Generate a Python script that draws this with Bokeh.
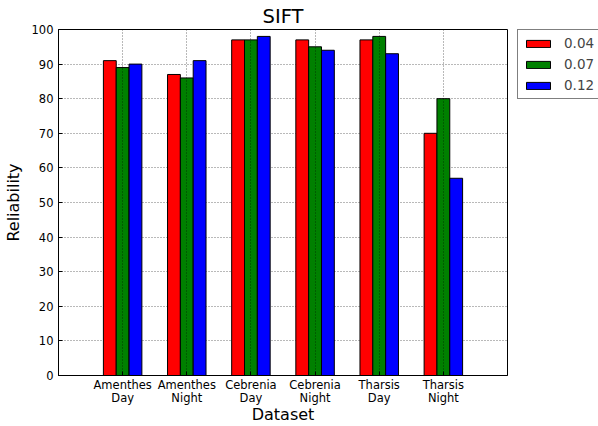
from bokeh.plotting import figure
from bokeh.layouts import row
from bokeh.models import ColumnDataSource, Range1d, FixedTicker, Legend, LegendItem
from bokeh.transform import dodge
from bokeh.embed import file_html
from bokeh.resources import INLINE

# Datasets (two-line tick labels) and reliability per threshold
datasets = ["Amenthes\nDay", "Amenthes\nNight", "Cebrenia\nDay",
            "Cebrenia\nNight", "Tharsis\nDay", "Tharsis\nNight"]
thresholds = ["0.04", "0.07", "0.12"]
rel_004 = [91, 87, 97, 97, 97, 70]
rel_007 = [89, 86, 97, 95, 98, 80]
rel_012 = [90, 91, 98, 94, 93, 57]
y_ticks = [0, 10, 20, 30, 40, 50, 60, 70, 80, 90, 100]

colors = ["#ff0000", "#008000", "#0000ff"]
offsets = [-0.2, 0.0, 0.2]

FONT = "DejaVu Sans"

idx = list(range(len(datasets)))
source = ColumnDataSource(dict(x=idx, s0=rel_004, s1=rel_007, s2=rel_012))

p = figure(width=508, height=426, output_backend="svg", toolbar_location=None,
           x_range=Range1d(-1, 6), y_range=Range1d(0, 100),
           min_border_left=57, min_border_right=1,
           min_border_top=28, min_border_bottom=49)

for i, (col, off) in enumerate(zip(colors, offsets)):
    p.vbar(x=dodge("x", off, range=p.x_range), top=f"s{i}", width=0.2,
           bottom=0, source=source, fill_color=col, line_color="black",
           line_width=1)

# Title
p.title.text = "SIFT"
p.title.text_font = FONT
p.title.text_font_size = "19.5px"
p.title.text_font_style = "normal"
p.title.align = "center"
p.title.text_color = "black"
p.title.standoff = 3

# Frame
p.outline_line_color = "black"
p.outline_line_width = 1
p.background_fill_color = "white"
p.border_fill_color = "white"

# Axes
xa = p.xaxis[0]
xa.ticker = FixedTicker(ticks=idx)
xa.major_label_overrides = {i: lab for i, lab in enumerate(datasets)}
xa.axis_label = "Dataset"
ya = p.yaxis[0]
ya.ticker = FixedTicker(ticks=y_ticks)
ya.axis_label = "Reliability"

for ax in (xa, ya):
    ax.axis_label_text_font = FONT
    ax.axis_label_text_font_size = "16px"
    ax.axis_label_text_font_style = "normal"
    ax.axis_label_text_color = "black"
    ax.major_label_text_font = FONT
    ax.major_label_text_font_size = "11.5px"
    ax.major_label_text_color = "black"
    ax.major_tick_in = 4
    ax.major_tick_out = 0
    ax.minor_tick_line_color = None
    ax.axis_line_color = "black"
    ax.major_tick_line_color = "black"
xa.major_label_standoff = 2
xa.major_label_text_line_height = 0.95
xa.axis_label_standoff = -3
ya.major_label_standoff = 5
ya.axis_label_standoff = 6

# Grid: dotted lines
for g, tk, lvl in ((p.xgrid[0], xa.ticker, "overlay"),
                   (p.ygrid[0], ya.ticker, "underlay")):
    g.ticker = tk
    g.grid_line_color = "black"
    g.grid_line_alpha = 0.55
    g.grid_line_width = 1
    g.grid_line_dash = "1 2"
    g.level = lvl

# Side panel holding the legend; its bars sit right of its visible range
side = figure(width=90, height=426, output_backend="svg", toolbar_location=None,
              x_range=Range1d(-101, -100), y_range=Range1d(0, 100),
              x_axis_location=None, y_axis_location=None,
              min_border_left=9, min_border_right=0,
              min_border_top=29, min_border_bottom=0)
side.xgrid.grid_line_color = None
side.ygrid.grid_line_color = None
side.outline_line_color = None
side.border_fill_color = "white"
side.background_fill_color = "white"

side_renderers = []
for i, (col, off) in enumerate(zip(colors, offsets)):
    r = side.vbar(x=dodge("x", off), top=f"s{i}", width=0.2, bottom=0,
                  source=source, fill_color=col, line_color="black",
                  line_width=1)
    side_renderers.append(r)

legend = Legend(items=[LegendItem(label=t, renderers=[r])
                       for t, r in zip(thresholds, side_renderers)],
                location="top_left", orientation="vertical",
                glyph_width=30, glyph_height=9, label_standoff=11,
                label_text_font=FONT, label_text_font_size="13.5px",
                label_height=16, spacing=5, padding=5, margin=0,
                border_line_color="black", border_line_width=1,
                background_fill_color="white", background_fill_alpha=1)
side.add_layout(legend, "center")

layout = row(p, side, spacing=0)

open("out.html", "w").write(file_html(layout, INLINE))
